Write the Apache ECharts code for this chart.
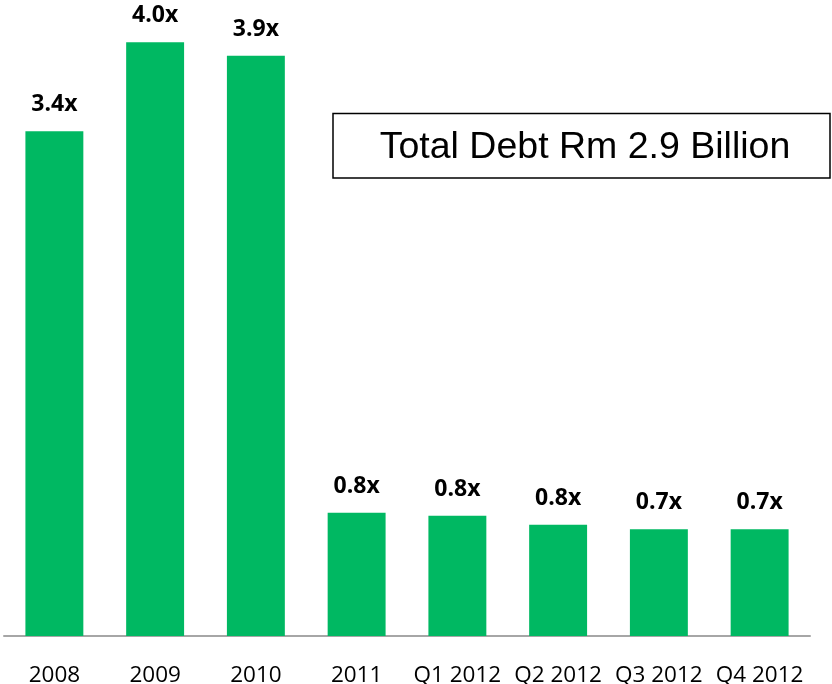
<!DOCTYPE html>
<html>
<head>
<meta charset="utf-8">
<script src="https://cdn.jsdelivr.net/npm/echarts@6/dist/echarts.min.js"></script>
<style>
  html, body { margin: 0; padding: 0; background: #fff; }
  #chart { width: 832px; height: 684px; }
</style>
</head>
<body>
<div id="chart"></div>
<script>
// categories + debt multiples
const categories = ['2008', '2009', '2010', '2011', 'Q1 2012', 'Q2 2012', 'Q3 2012', 'Q4 2012'];
const debtMultiple = [3.40, 4.00, 3.91, 0.83, 0.81, 0.75, 0.72, 0.72];
const barLabels = ['3.4x', '4.0x', '3.9x', '0.8x', '0.8x', '0.8x', '0.7x', '0.7x'];
const boxText = 'Total Debt Rm 2.9 Billion';

const chart = echarts.init(document.getElementById('chart'));

chart.setOption({
  animation: false,
  grid: {
    left: 4,
    right: 22,
    top: 0,
    bottom: 48,
    containLabel: false,
    outerBoundsMode: 'none',
  },
  xAxis: {
    type: 'category',
    data: categories,
    axisLine: { lineStyle: { color: '#a6a6a6', width: 2 } },
    axisTick: { show: false },
    axisLabel: {
      margin: 28,
      fontFamily: 'Open Sans',
      fontSize: 22.5,
      color: '#000',
      interval: 0,
    },
  },
  yAxis: {
    type: 'value',
    min: 0,
    max: 4.285,
    show: false,
    splitLine: { show: false },
  },
  series: [
    {
      type: 'bar',
      data: debtMultiple,
      barWidth: '57.5%',
      itemStyle: { color: '#00b862' },
      label: {
        show: true,
        position: 'top',
        distance: 15,
        fontFamily: 'Open Sans',
        fontWeight: 'bold',
        fontSize: 23,
        color: '#000',
        formatter: (p) => barLabels[p.dataIndex],
      },
    },
  ],
  graphic: [
    {
      type: 'rect',
      shape: { x: 333, y: 113.5, width: 497, height: 64.5 },
      style: { fill: '#fff', stroke: '#000', lineWidth: 1.5 },
    },
    {
      type: 'text',
      x: 585,
      y: 148,
      style: {
        text: boxText,
        fontFamily: 'Liberation Sans',
        fontSize: 37.5,
        fill: '#000',
        align: 'center',
        verticalAlign: 'middle',
      },
    },
  ],
});
</script>
</body>
</html>
